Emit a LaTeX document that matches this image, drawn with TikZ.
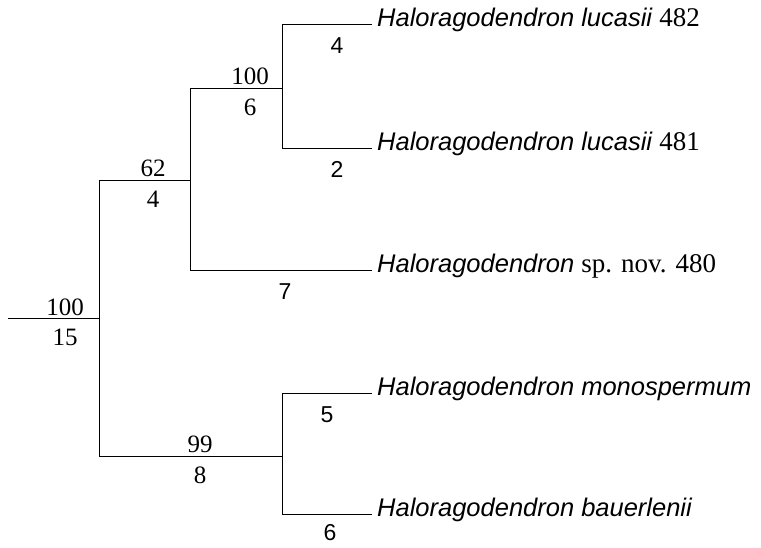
\documentclass[tikz,border=0pt]{standalone}
\usepackage{fontspec}
\setmainfont{Liberation Serif}
\setsansfont{Liberation Sans}
\newcommand\accno[1]{{\upshape\rmfamily\fontsize{27}{27}\selectfont #1}}
\tikzset{
  branch/.style={line width=0.8pt,black},
  support/.style={inner sep=0pt,font=\fontsize{25}{25}\selectfont},
  steps/.style={inner sep=0pt,font=\sffamily\fontsize{23}{23}\selectfont},
  taxon/.style={anchor=base west,inner sep=0pt,font=\sffamily\fontsize{25.5}{26}\selectfont},
}
\begin{document}
\begin{tikzpicture}[x=1pt,y=-1pt]
            \useasboundingbox (0,0) rectangle (761,547);
            % Coordinates
            \coordinate (R0) at (8,318);
            \coordinate (R) at (99,318);
            \coordinate (Rt) at (99,180);
            \coordinate (Rb) at (99,456);
            \coordinate (A) at (190,180);
            \coordinate (At) at (190,88);
            \coordinate (Ab) at (190,270);
            \coordinate (C) at (282,88);
            \coordinate (Ct) at (282,24);
            \coordinate (Cb) at (282,148);
            \coordinate (D) at (282,456);
            \coordinate (Dt) at (282,393);
            \coordinate (Db) at (282,514);
            \coordinate (L1) at (372,24);
            \coordinate (L2) at (372,148);
            \coordinate (L3) at (372,270);
            \coordinate (L4) at (372,393);
            \coordinate (L5) at (372,514);
            % Taxa
            \node[taxon] (t482) at ([xshift=5pt,yshift=-2pt]L1) {\itshape Haloragodendron lucasii \accno{482}};
            \node[taxon] (t481) at ([xshift=5pt,yshift=-2pt]L2) {\itshape Haloragodendron lucasii \accno{481}};
            \node[taxon] (t480) at ([xshift=5pt,yshift=-2pt]L3) {\itshape Haloragodendron \accno{sp. nov. 480}};
            \node[taxon] (tmon) at ([xshift=5pt,yshift=-2pt]L4) {\itshape Haloragodendron monospermum};
            \node[taxon] (tbau) at ([xshift=5pt,yshift=-2pt]L5) {\itshape Haloragodendron bauerlenii};
            % Labels
            \node[support] (bR) at (65,307) {100};
            \node[support] (sR) at (65,337) {15};
            \node[support] (bA) at (153,168) {62};
            \node[support] (sA) at (153,199) {4};
            \node[support] (bC) at (250,76) {100};
            \node[support] (sC) at (250,107) {6};
            \node[support] (bD) at (200,444) {99};
            \node[support] (sD) at (200,475) {8};
            \node[steps] (s482) at (337,46) {4};
            \node[steps] (s481) at (337,169) {2};
            \node[steps] (s480) at (285,292) {7};
            \node[steps] (smon) at (327,415) {5};
            \node[steps] (sbau) at (330,533) {6};
            % draw branches
            \draw[branch] (R0) -- (R);
            \draw[branch] (Rt) -- (Rb);
            \draw[branch] (Rt) -- (A);
            \draw[branch] (At) -- (Ab);
            \draw[branch] (At) -- (C);
            \draw[branch] (Ct) -- (Cb);
            \draw[branch] (Ct) -- (L1);
            \draw[branch] (Cb) -- (L2);
            \draw[branch] (Ab) -- (L3);
            \draw[branch] (Rb) -- (D);
            \draw[branch] (Dt) -- (Db);
            \draw[branch] (Dt) -- (L4);
            \draw[branch] (Db) -- (L5);
        \end{tikzpicture}
\end{document}
